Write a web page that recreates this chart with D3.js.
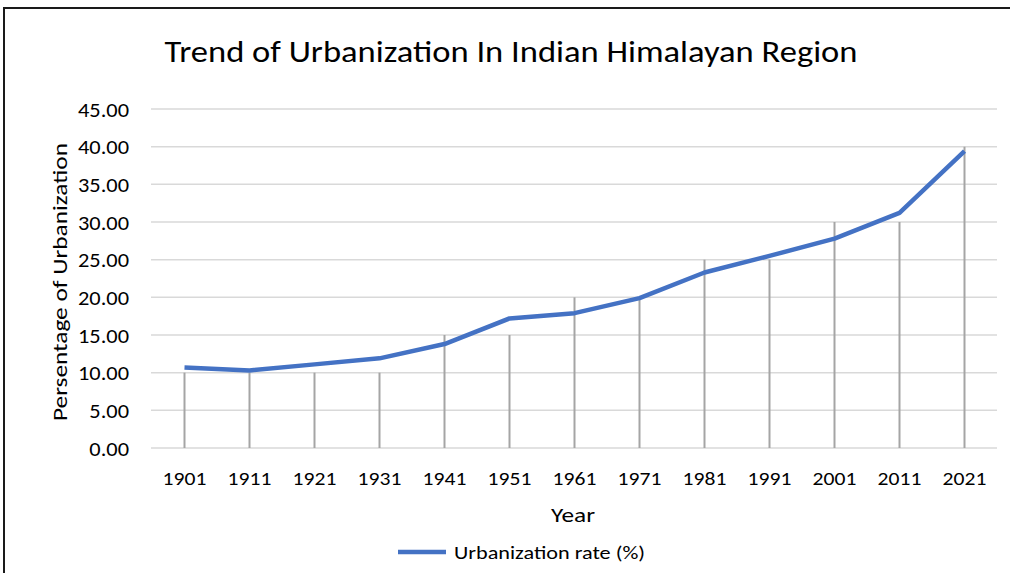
<!DOCTYPE html>
<html>
<head>
<meta charset="utf-8">
<script src="https://cdn.jsdelivr.net/npm/d3@7"></script>
<style>
  body { margin: 0; background: #fff; }
  svg text { font-family: Calibri, Carlito, Lato, sans-serif; fill: #000; }
</style>
</head>
<body>
<svg id="chart"></svg>
<script>
// data
const years = ["1901", "1911", "1921", "1931", "1941", "1951", "1961", "1971", "1981", "1991", "2001", "2011", "2021"];
const urbanRate = [10.7, 10.3, 11.1, 11.9, 13.8, 17.2, 17.9, 19.9, 23.3, 25.5, 27.8, 31.2, 39.4];
// grey drop lines stop at these levels
const dropLevels = [10, 10, 10, 10, 15, 15, 20, 20, 25, 25, 30, 30, 40];
const yTicks = [0, 5, 10, 15, 20, 25, 30, 35, 40, 45];

const width = 1010, height = 573;
const margin = { top: 109, right: 13, bottom: 125, left: 152 };

const svg = d3.select("#chart")
  .attr("width", width)
  .attr("height", height);

// outer chart border
svg.append("rect")
  .attr("x", 4).attr("y", 8)
  .attr("width", width + 10).attr("height", height + 10)
  .attr("fill", "none")
  .attr("stroke", "#1a1a1a")
  .attr("stroke-width", 2);

const xScale = d3.scaleBand()
  .domain(years)
  .range([margin.left, width - margin.right]);

const yScale = d3.scaleLinear()
  .domain([0, 45])
  .range([height - margin.bottom, margin.top]);

// horizontal gridlines
svg.append("g")
  .selectAll("line")
  .data(yTicks)
  .join("line")
  .attr("x1", margin.left - 1)
  .attr("x2", width - margin.right)
  .attr("y1", d => yScale(d))
  .attr("y2", d => yScale(d))
  .attr("stroke", "#d9d9d9")
  .attr("stroke-width", 1.5);

// y axis tick labels (text is a bit wider than tall in the original)
const yAxis = svg.append("g")
  .attr("transform", "translate(" + (margin.left - 23) + ",0)")
  .call(d3.axisLeft(yScale).tickValues(yTicks).tickFormat(d3.format(".2f")).tickSize(0).tickPadding(0));
yAxis.select(".domain").remove();
yAxis.selectAll("text")
  .style("font-size", "20px")
  .attr("dy", "0.36em")
  .attr("transform", "scale(1.12,1)");

// grey drop lines
svg.append("g")
  .selectAll("line")
  .data(years)
  .join("line")
  .attr("x1", d => xScale(d) + xScale.bandwidth() / 2)
  .attr("x2", d => xScale(d) + xScale.bandwidth() / 2)
  .attr("y1", yScale(0))
  .attr("y2", (d, i) => yScale(dropLevels[i]))
  .attr("stroke", "#a5a5a5")
  .attr("stroke-width", 2);

// x axis labels
const xAxis = svg.append("g")
  .attr("transform", "translate(0," + yScale(0) + ")")
  .call(d3.axisBottom(xScale).tickSize(0).tickPadding(24));
xAxis.select(".domain").remove();
xAxis.selectAll("text")
  .style("font-size", "18px")
  .attr("transform", "scale(1.2,1)");

// urbanization line
const line = d3.line()
  .x((d, i) => xScale(years[i]) + xScale.bandwidth() / 2)
  .y(d => yScale(d));

svg.append("path")
  .datum(urbanRate)
  .attr("d", line)
  .attr("fill", "none")
  .attr("stroke", "#4472c4")
  .attr("stroke-width", 4.5)
  .attr("stroke-linejoin", "round");

// title
svg.append("text")
  .attr("x", 511)
  .attr("y", 62)
  .attr("text-anchor", "middle")
  .attr("textLength", 693)
  .attr("lengthAdjust", "spacingAndGlyphs")
  .style("font-size", "30px")
  .text("Trend of Urbanization In Indian Himalayan Region");

// axis titles
svg.append("text")
  .attr("x", 573)
  .attr("y", 522)
  .attr("text-anchor", "middle")
  .attr("textLength", 44)
  .attr("lengthAdjust", "spacingAndGlyphs")
  .style("font-size", "20px")
  .text("Year");

svg.append("text")
  .attr("transform", "translate(67,282) rotate(-90)")
  .attr("text-anchor", "middle")
  .attr("textLength", 278)
  .attr("lengthAdjust", "spacingAndGlyphs")
  .style("font-size", "21px")
  .text("Persentage of Urbanization");

// legend
const legend = svg.append("g");
legend.append("line")
  .attr("x1", 398).attr("x2", 446)
  .attr("y1", 552).attr("y2", 552)
  .attr("stroke", "#4472c4")
  .attr("stroke-width", 4.5);
legend.append("text")
  .attr("x", 454)
  .attr("y", 559)
  .attr("textLength", 191)
  .attr("lengthAdjust", "spacingAndGlyphs")
  .style("font-size", "19px")
  .text("Urbanization rate (%)");
</script>
</body>
</html>
